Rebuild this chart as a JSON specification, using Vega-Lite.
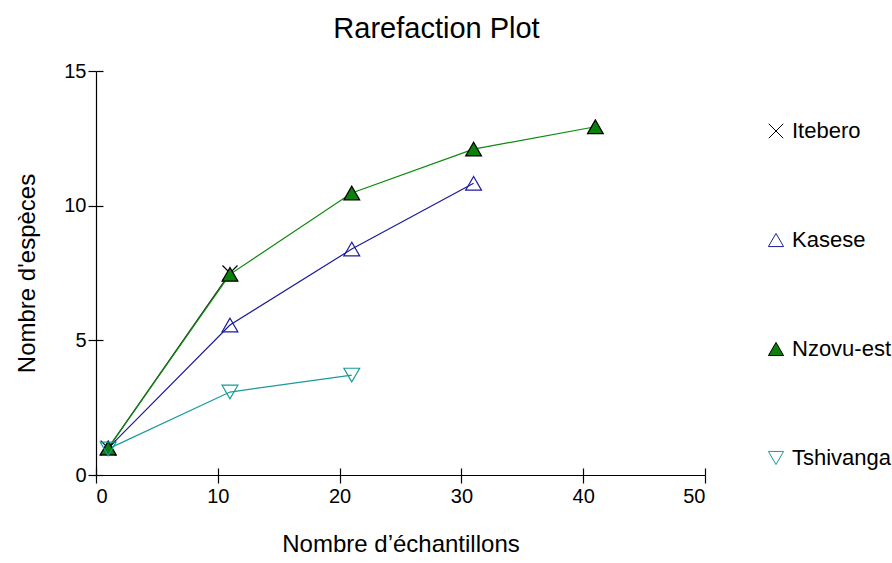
{
  "$schema": "https://vega.github.io/schema/vega-lite/v6.json",
  "width": 609,
  "height": 404,
  "autosize": {"type": "none"},
  "padding": {"left": 96, "top": 71, "right": 187, "bottom": 88},
  "background": "white",
  "config": {
    "font": "Liberation Sans",
    "view": {"stroke": null},
    "axis": {"domainColor": "black", "tickColor": "black", "labelColor": "black", "titleColor": "black", "labelFont": "Liberation Sans", "titleFont": "Liberation Sans", "titleFontWeight": "normal", "labelFontSize": 20, "titleFontSize": 24,
             "grid": true, "gridColor": "black", "gridOpacity": 1, "gridWidth": 1.2},
    "legend": {"labelFont": "Liberation Sans", "labelFontSize": 22, "labelColor": "black"}
  },
  "title": {"text": "Rarefaction Plot", "fontSize": 29, "fontWeight": "normal", "font": "Liberation Sans", "color": "black", "offset": 17, "dx": 36},
  "data": {"values": [
    {"series": "Itebero", "n": 1, "s": 1},
    {"series": "Itebero", "n": 11, "s": 7.5},
    {"series": "Kasese", "n": 1, "s": 1},
    {"series": "Kasese", "n": 11, "s": 5.57},
    {"series": "Kasese", "n": 21, "s": 8.39},
    {"series": "Kasese", "n": 31, "s": 10.83},
    {"series": "Nzovu-est", "n": 1, "s": 1},
    {"series": "Nzovu-est", "n": 11, "s": 7.45},
    {"series": "Nzovu-est", "n": 21, "s": 10.47},
    {"series": "Nzovu-est", "n": 31, "s": 12.1},
    {"series": "Nzovu-est", "n": 41, "s": 12.93},
    {"series": "Tshivanga", "n": 1, "s": 0.97},
    {"series": "Tshivanga", "n": 11, "s": 3.08},
    {"series": "Tshivanga", "n": 21, "s": 3.71}
  ]},
  "layer": [
    {
      "mark": {"type": "line", "strokeWidth": 1.2},
      "encoding": {
        "x": {"field": "n", "type": "quantitative", "scale": {"domain": [0, 50], "nice": false, "zero": false},
              "axis": {"title": "Nombre d’échantillons", "values": [0, 10, 20, 30, 40, 50], "tickSize": 8, "labelPadding": 3, "titlePadding": 26, "domainWidth": 1.2, "tickWidth": 1.2, "gridDash": [7, 397], "gridDashOffset": 7}},
        "y": {"field": "s", "type": "quantitative", "scale": {"domain": [0, 15], "nice": false},
              "axis": {"title": "Nombre d'espèces", "values": [0, 5, 10, 15], "tickSize": 8, "labelPadding": 2, "titlePadding": 24, "domainWidth": 1.2, "tickWidth": 1.2, "gridDash": [7, 2000]}},
        "color": {"field": "series", "type": "nominal", "legend": null,
                  "scale": {"range": ["#222222", "#1c1c9c", "#0b8a0b", "#1a9a9a"]}},
        "order": {"field": "n", "type": "quantitative"}
      }
    },
    {
      "mark": {"type": "point", "filled": true, "size": 250, "strokeWidth": 1.2, "opacity": 1},
      "encoding": {
        "x": {"field": "n", "type": "quantitative"},
        "y": {"field": "s", "type": "quantitative"},
        "shape": {"field": "series", "type": "nominal",
                  "scale": {"domain": ["Itebero", "Kasese", "Nzovu-est", "Tshivanga"], "range": ["M-0.95,-0.95L0.95,0.95M0.95,-0.95L-0.95,0.95", "triangle-up", "triangle-up", "triangle-down"]},
                  "legend": {"title": null, "orient": "right", "offset": 11, "padding": 49, "symbolSize": 230, "rowPadding": 87, "labelOffset": 5, "symbolStrokeWidth": 1}},
        "stroke": {"field": "series", "type": "nominal",
                   "scale": {"domain": ["Itebero", "Kasese", "Nzovu-est", "Tshivanga"], "range": ["#000000", "#1c1c9c", "#000000", "#1a9a9a"]},
                   "legend": {"title": null, "orient": "right", "offset": 11, "padding": 49, "symbolSize": 230, "rowPadding": 87, "labelOffset": 5, "symbolStrokeWidth": 1}},
        "fill": {"field": "series", "type": "nominal",
                 "scale": {"domain": ["Itebero", "Kasese", "Nzovu-est", "Tshivanga"], "range": ["transparent", "transparent", "#0b800b", "transparent"]},
                 "legend": {"title": null, "orient": "right", "offset": 11, "padding": 49, "symbolSize": 230, "rowPadding": 87, "labelOffset": 5, "symbolStrokeWidth": 1}}
      }
    }
  ]
}
